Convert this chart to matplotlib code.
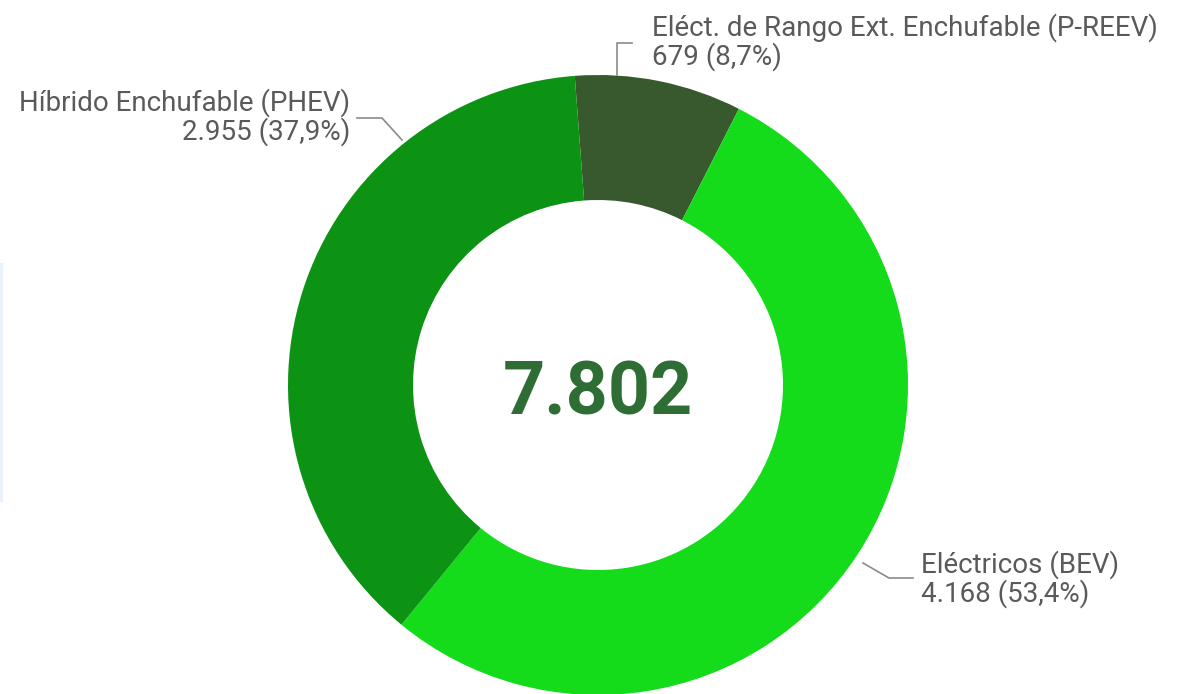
import matplotlib.pyplot as plt

labels = ["Eléct. de Rango Ext. Enchufable (P-REEV)", "Eléctricos (BEV)", "Híbrido Enchufable (PHEV)"]
values = [679, 4168, 2955]
pcts = ["8,7%", "53,4%", "37,9%"]
counts = ["679", "4.168", "2.955"]
total = "7.802"
colors = ["#37592d", "#14dc1a", "#0c9314"]

plt.rcParams['font.family'] = ['Roboto', 'DejaVu Sans']

fig = plt.figure(figsize=(11.83, 6.94), dpi=100)
ax = fig.add_axes([0, 0, 1, 1])

H = 694
cx, cy = 598, H - 385
ax.pie(values, colors=colors, startangle=94.3, counterclock=False,
       center=(cx, cy), radius=310, frame=True,
       wedgeprops=dict(width=125, edgecolor='none'))
ax.set_xlim(0, 1183)
ax.set_ylim(0, 694)
ax.axis('off')

ax.text(cx, H - 394, total, ha='center', va='center', fontsize=53,
        fontweight='bold', color='#2e6e35')

txt = dict(fontsize=20, color='#5a5a5a', linespacing=1.0)
line = dict(color='#8a8a8a', lw=1.2)

# P-REEV
ax.text(652, H - 42, f"{labels[0]}\n{counts[0]} ({pcts[0]})", ha='left', va='center', **txt)
ax.plot([617, 617, 632], [H - 75, H - 43, H - 43], **line)

# BEV
ax.text(921, H - 579, f"{labels[1]}\n{counts[1]} ({pcts[1]})", ha='left', va='center', **txt)
ax.plot([863, 889, 913], [H - 563, H - 578, H - 578], **line)

# PHEV
ax.text(350, H - 117, f"{labels[2]}\n{counts[2]} ({pcts[2]})", ha='right', va='center',
        multialignment='right', **txt)
ax.plot([357, 382, 402], [H - 118, H - 118, H - 140], **line)

# faint edge strip on the left
ax.plot([1.5, 1.5], [H - 265, H - 500], color='#e9f1fb', lw=3)

fig.savefig('out.png', dpi=100)
